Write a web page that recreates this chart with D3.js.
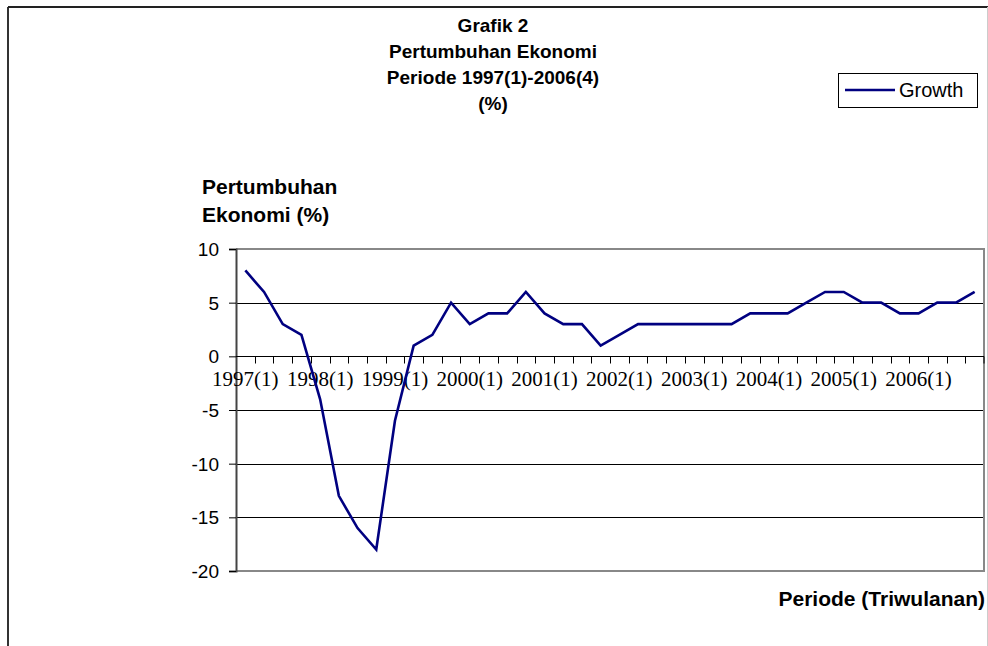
<!DOCTYPE html>
<head>
  <meta charset="utf-8">
  <script src="https://d3js.org/d3.v7.min.js"></script>
  <style>
    html, body { margin: 0; padding: 0; background: #fff; }
    svg { display: block; }
    text { font-family: 'Liberation Sans', Arial, sans-serif; fill: #000; }
    .title { font-size: 19px; font-weight: bold; }
    .axisTitle { font-size: 21px; font-weight: bold; }
    .yAxis text { font-size: 19px; }
    .xLabels text { font-family: 'Liberation Serif', 'Times New Roman', serif; font-size: 21px; }
    .legendText { font-size: 20px; }
  </style>
</head>

<body>
<div id="chart"></div>

<script>

///////////////////////////////////////////////////////////////////////////
//////////////////////////////// Data /////////////////////////////////////
///////////////////////////////////////////////////////////////////////////

const years = [1997, 1998, 1999, 2000, 2001, 2002, 2003, 2004, 2005, 2006];
const quarters = [1, 2, 3, 4];

// economic growth per quarter (%), 1997(1) - 2006(4)
const growth = [
  8, 6, 3, 2,
  -4, -13, -16, -18,
  -6, 1, 2, 5,
  3, 4, 4, 6,
  4, 3, 3, 1,
  2, 3, 3, 3,
  3, 3, 3, 4,
  4, 4, 5, 6,
  6, 5, 5, 4,
  4, 5, 5, 6
];

const yTicks = [-20, -15, -10, -5, 0, 5, 10];
const titleLines = ["Grafik 2", "Pertumbuhan Ekonomi", "Periode 1997(1)-2006(4)", "(%)"];
const yTitleLines = ["Pertumbuhan", "Ekonomi (%)"];
const xTitle = "Periode (Triwulanan)";
const seriesName = "Growth";

const periods = [];
years.forEach(y => quarters.forEach(q => periods.push(y + "(" + q + ")")));
const xLabelValues = periods.filter((p, i) => i % 4 === 0);

const data = periods.map((p, i) => ({ period: p, value: growth[i] }));

///////////////////////////////////////////////////////////////////////////
//////////////////////////////// Setup ////////////////////////////////////
///////////////////////////////////////////////////////////////////////////

const width = 988, height = 646;
const plot = { left: 236, right: 984, top: 249, bottom: 571 };

const svg = d3.select('#chart')
  .append("svg")
  .attr("width", width)
  .attr("height", height);

// outer frame
svg.append("line").attr("x1", 8).attr("x2", 8).attr("y1", 7).attr("y2", height)
  .style("stroke", "#333").style("stroke-width", 2);
svg.append("line").attr("x1", 8).attr("x2", 988).attr("y1", 7).attr("y2", 7)
  .style("stroke", "#222").style("stroke-width", 2);
svg.append("line").attr("x1", 987.5).attr("x2", 987.5).attr("y1", 7).attr("y2", height)
  .style("stroke", "#ccc").style("stroke-width", 1);

const x = d3.scaleBand()
  .domain(periods)
  .range([plot.left, plot.right])
  .padding(0);

const y = d3.scaleLinear()
  .domain([-20, 10])
  .range([plot.bottom, plot.top]);

///////////////////////////////////////////////////////////////////////////
///////////////////////////// Grid & axes /////////////////////////////////
///////////////////////////////////////////////////////////////////////////

// gridlines
svg.selectAll(".grid")
  .data(yTicks.filter(t => t !== 0 && t !== 10 && t !== -20))
  .enter().append("line")
  .attr("x1", plot.left).attr("x2", plot.right)
  .attr("y1", d => Math.round(y(d)) + 0.5).attr("y2", d => Math.round(y(d)) + 0.5)
  .style("stroke", "#000").style("stroke-width", 1);

// plot area border (top, right, bottom)
svg.append("path")
  .attr("d", `M${plot.left},${plot.top}H${plot.right}V${plot.bottom}H${plot.left}`)
  .style("fill", "none").style("stroke", "#888").style("stroke-width", 2);

// y axis
const yAxis = svg.append("g")
  .attr("class", "yAxis")
  .attr("transform", `translate(${plot.left},0)`)
  .call(d3.axisLeft(y).tickValues(yTicks).tickFormat(d => String(d)).tickSize(7).tickPadding(10));
yAxis.select(".domain").style("stroke", "#444").style("stroke-width", 2);
yAxis.selectAll(".tick line").style("stroke", "#000");
yAxis.selectAll("text").attr("dy", "0.35em");

// zero line with boundary ticks
const zeroY = Math.round(y(0)) + 0.5;
svg.append("line")
  .attr("x1", plot.left).attr("x2", plot.right)
  .attr("y1", zeroY).attr("y2", zeroY)
  .style("stroke", "#000").style("stroke-width", 1.2);

svg.selectAll(".xTick")
  .data(periods.slice(1).concat(["end"]))
  .enter().append("line")
  .attr("x1", d => d === "end" ? plot.right : Math.round(x(d)) + 0.5)
  .attr("x2", d => d === "end" ? plot.right : Math.round(x(d)) + 0.5)
  .attr("y1", zeroY).attr("y2", zeroY + 7)
  .style("stroke", "#000").style("stroke-width", 1);

// x labels (every first quarter), sitting under the zero line
const xAxis = svg.append("g")
  .attr("class", "xLabels")
  .attr("transform", `translate(0,${zeroY})`)
  .call(d3.axisBottom(x).tickValues(xLabelValues).tickSize(0).tickPadding(22));
xAxis.select(".domain").remove();
xAxis.selectAll("text").attr("dy", "0.35em");

///////////////////////////////////////////////////////////////////////////
//////////////////////////////// Line /////////////////////////////////////
///////////////////////////////////////////////////////////////////////////

const line = d3.line()
  .x(d => x(d.period) + x.bandwidth() / 2)
  .y(d => y(d.value));

svg.append("path")
  .datum(data)
  .attr("d", line)
  .style("fill", "none")
  .style("stroke", "#000080")
  .style("stroke-width", 2.6)
  .style("stroke-linejoin", "miter");

///////////////////////////////////////////////////////////////////////////
//////////////////////////////// Texts ////////////////////////////////////
///////////////////////////////////////////////////////////////////////////

svg.selectAll(".title")
  .data(titleLines)
  .enter().append("text")
  .attr("class", "title")
  .attr("x", 493)
  .attr("y", (d, i) => 32 + i * 26)
  .attr("text-anchor", "middle")
  .text(d => d);

svg.selectAll(".yTitle")
  .data(yTitleLines)
  .enter().append("text")
  .attr("class", "axisTitle")
  .attr("x", 202)
  .attr("y", (d, i) => 194 + i * 28)
  .text(d => d);

svg.append("text")
  .attr("class", "axisTitle")
  .attr("x", 985)
  .attr("y", 606)
  .attr("text-anchor", "end")
  .text(xTitle);

// legend
const legend = svg.append("g").attr("transform", "translate(838,73)");
legend.append("rect")
  .attr("x", 0.5).attr("y", 0.5)
  .attr("width", 139).attr("height", 34)
  .style("fill", "#fff").style("stroke", "#000").style("stroke-width", 1);
legend.append("line")
  .attr("x1", 7).attr("x2", 57).attr("y1", 17).attr("y2", 17)
  .style("stroke", "#000080").style("stroke-width", 2.6);
legend.append("text")
  .attr("class", "legendText")
  .attr("x", 61).attr("y", 24)
  .text(seriesName);

</script>
</body>
